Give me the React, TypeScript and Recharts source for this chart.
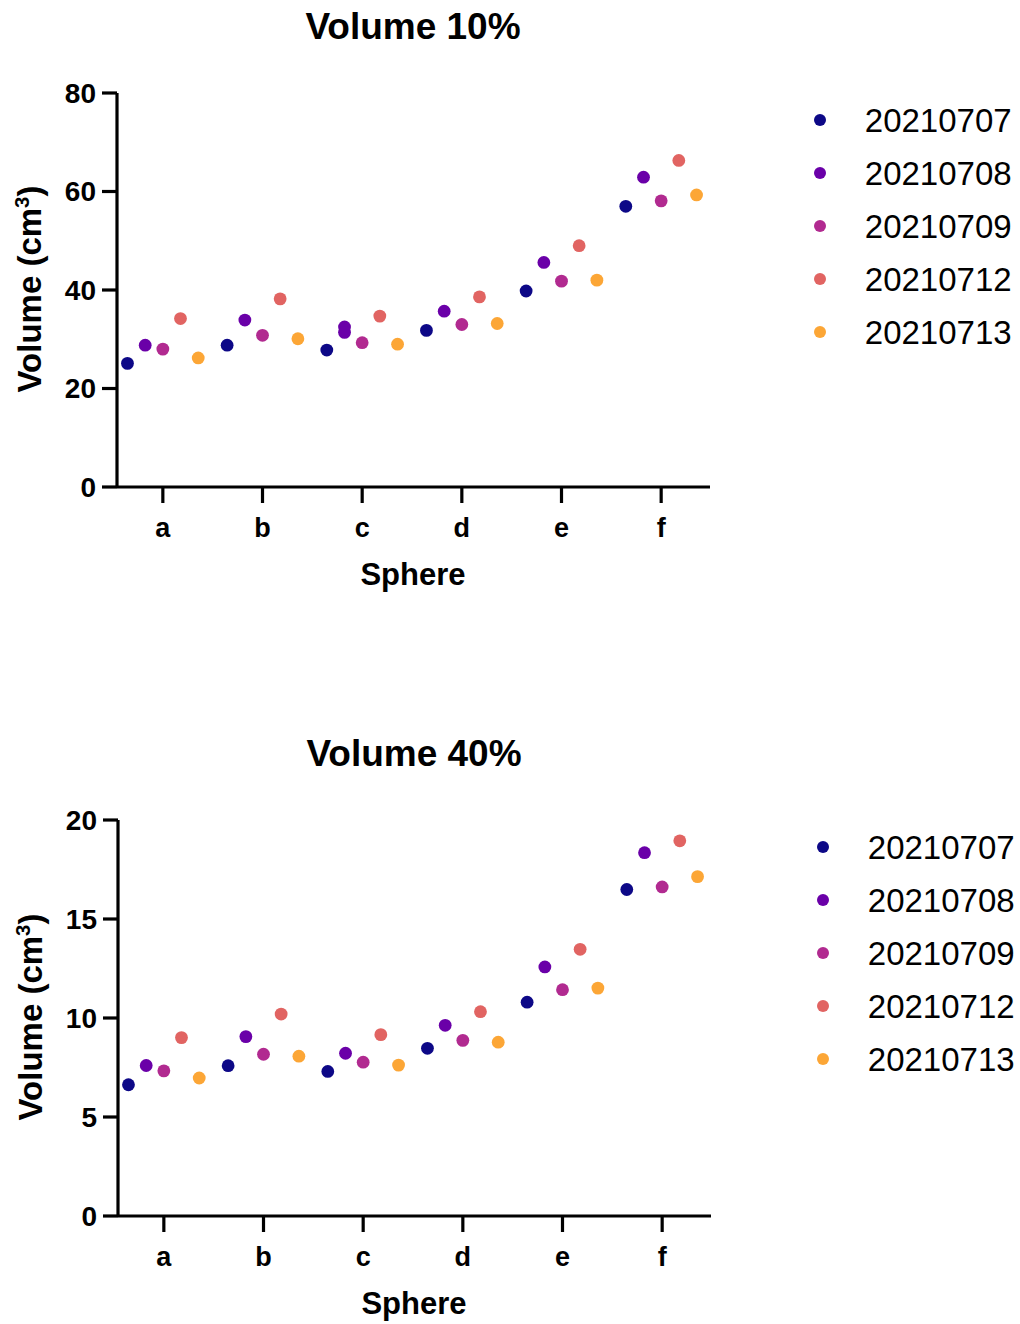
import { Legend, Scatter, ScatterChart, XAxis, YAxis } from 'recharts';

const categories = ['a', 'b', 'c', 'd', 'e', 'f'];
const seriesNames = ['20210707', '20210708', '20210709', '20210712', '20210713'];
const seriesColors = ['#0d0887', '#6a00a8', '#b12a90', '#e16462', '#fca636'];
// horizontal position of each day inside a sphere group
const seriesOffsets = [-0.355, -0.177, 0, 0.177, 0.355];

// Volume 10%
const vol10_0707 = [25.1, 28.8, 27.8, 31.8, 39.8, 57.0];
const vol10_0708 = [28.8, 33.9, 32.5, 35.7, 45.6, 62.9];
const vol10_0709 = [28.0, 30.8, 29.3, 33.0, 41.8, 58.1];
const vol10_0712 = [34.2, 38.2, 34.7, 38.6, 49.0, 66.3];
const vol10_0713 = [26.2, 30.1, 29.0, 33.2, 42.0, 59.3];
// second 20210708 reading on sphere c
const vol10_0708_repeat: [string, number][] = [['c', 31.4]];
const vol10Ticks = [0, 20, 40, 60, 80];

// Volume 40%
const vol40_0707 = [6.63, 7.59, 7.3, 8.47, 10.8, 16.49];
const vol40_0708 = [7.6, 9.06, 8.22, 9.63, 12.58, 18.35];
const vol40_0709 = [7.33, 8.17, 7.77, 8.87, 11.43, 16.62];
const vol40_0712 = [9.01, 10.2, 9.16, 10.32, 13.47, 18.95];
const vol40_0713 = [6.97, 8.07, 7.62, 8.78, 11.51, 17.14];
const vol40Ticks = [0, 5, 10, 15, 20];

const FONT = '"Liberation Sans", Arial, Helvetica, sans-serif';
const AXIS = { stroke: '#000', strokeWidth: 3.2 };

type Pt = { x: number; y: number };

function toPoints(values: number[], s: number, repeats: [string, number][] = []): Pt[] {
  const pts = values.map((v, i) => ({ x: i + seriesOffsets[s], y: v }));
  repeats.forEach(([cat, v]) => pts.push({ x: categories.indexOf(cat) + seriesOffsets[s], y: v }));
  return pts;
}

const vol10Series = [
  toPoints(vol10_0707, 0),
  toPoints(vol10_0708, 1, vol10_0708_repeat),
  toPoints(vol10_0709, 2),
  toPoints(vol10_0712, 3),
  toPoints(vol10_0713, 4),
];

const vol40Series = [
  toPoints(vol40_0707, 0),
  toPoints(vol40_0708, 1),
  toPoints(vol40_0709, 2),
  toPoints(vol40_0712, 3),
  toPoints(vol40_0713, 4),
];

function Dot(props: any) {
  const { cx, cy, fill } = props;
  if (cx == null || cy == null) return null;
  return <circle cx={cx} cy={cy} r={6.4} fill={fill} />;
}

function LegendList({ payload }: any) {
  return (
    <div style={{ fontFamily: FONT }}>
      {(payload || []).map((entry: any) => (
        <div key={entry.value} style={{ display: 'flex', alignItems: 'center', height: 53 }}>
          <div
            style={{
              width: 12.8,
              height: 12.8,
              borderRadius: '50%',
              background: entry.color,
              marginLeft: 13.6,
              marginRight: 38.4,
            }}
          />
          <span style={{ fontSize: 33, color: '#000', lineHeight: '53px' }}>{entry.value}</span>
        </div>
      ))}
    </div>
  );
}

interface PanelProps {
  top: number;
  left: number;
  height: number;
  title: string;
  series: Pt[][];
  ticks: number[];
  legendLeft: number;
}

function Panel({ top, left, height, title, series, ticks, legendLeft }: PanelProps) {
  const plotTop = 93;
  const plotBottom = height - 132;
  return (
    <div style={{ position: 'absolute', top, left, width: 1020, height: 640, fontFamily: FONT }}>
      <div
        style={{
          position: 'absolute',
          left: 213,
          top: 6,
          width: 400,
          textAlign: 'center',
          fontSize: 37,
          lineHeight: '42px',
          fontWeight: 'bold',
        }}
      >
        {title}
      </div>
      <div
        style={{
          position: 'absolute',
          left: 30 - 160,
          top: (plotTop + plotBottom) / 2 - 1 - 18,
          width: 320,
          height: 36,
          lineHeight: '36px',
          textAlign: 'center',
          fontSize: 33,
          fontWeight: 'bold',
          transform: 'rotate(-90deg)',
          whiteSpace: 'nowrap',
        }}
      >
        Volume (cm<sup style={{ fontSize: '0.62em', lineHeight: 0 }}>3</sup>)
      </div>
      <div
        style={{
          position: 'absolute',
          left: 263,
          top: plotBottom + 71,
          width: 300,
          textAlign: 'center',
          fontSize: 31,
          lineHeight: '34px',
          fontWeight: 'bold',
        }}
      >
        Sphere
      </div>
      <div style={{ position: 'absolute', left: 0, top: 0 }}>
        <ScatterChart width={1020} height={height} margin={{ top: plotTop, right: 310, left: 0, bottom: 0 }}>
          <XAxis
            type="number"
            dataKey="x"
            domain={[-0.46, 5.49]}
            ticks={[0, 1, 2, 3, 4, 5]}
            tickFormatter={(v: number) => categories[v] ?? ''}
            allowDataOverflow
            height={132}
            stroke="#000"
            strokeWidth={3.2}
            axisLine={AXIS}
            tickLine={AXIS}
            tickSize={16}
            tickMargin={15}
            tick={{ fill: '#000', fontSize: 27, fontWeight: 'bold', fontFamily: FONT }}
          />
          <YAxis
            type="number"
            dataKey="y"
            domain={[ticks[0], ticks[ticks.length - 1]]}
            ticks={ticks}
            width={117}
            stroke="#000"
            strokeWidth={3.2}
            axisLine={AXIS}
            tickLine={AXIS}
            tickSize={15}
            tickMargin={6}
            tick={{ fill: '#000', fontSize: 28, fontWeight: 'bold', fontFamily: FONT }}
          />
          <Legend
            layout="vertical"
            align="center"
            verticalAlign="middle"
            content={<LegendList />}
            wrapperStyle={{ left: legendLeft, top: 93.5, width: 220 }}
          />
          {series.map((pts, s) => (
            <Scatter
              key={seriesNames[s]}
              name={seriesNames[s]}
              data={pts}
              fill={seriesColors[s]}
              shape={<Dot />}
              isAnimationActive={false}
            />
          ))}
        </ScatterChart>
      </div>
    </div>
  );
}

export default function App() {
  return (
    <div style={{ position: 'absolute', left: 0, top: 0, width: 1020, height: 1324, background: '#fff' }}>
      <Panel top={0} left={0} height={619} title="Volume 10%" series={vol10Series} ticks={vol10Ticks} legendLeft={800} />
      <Panel top={727} left={1} height={621} title="Volume 40%" series={vol40Series} ticks={vol40Ticks} legendLeft={802} />
    </div>
  );
}
